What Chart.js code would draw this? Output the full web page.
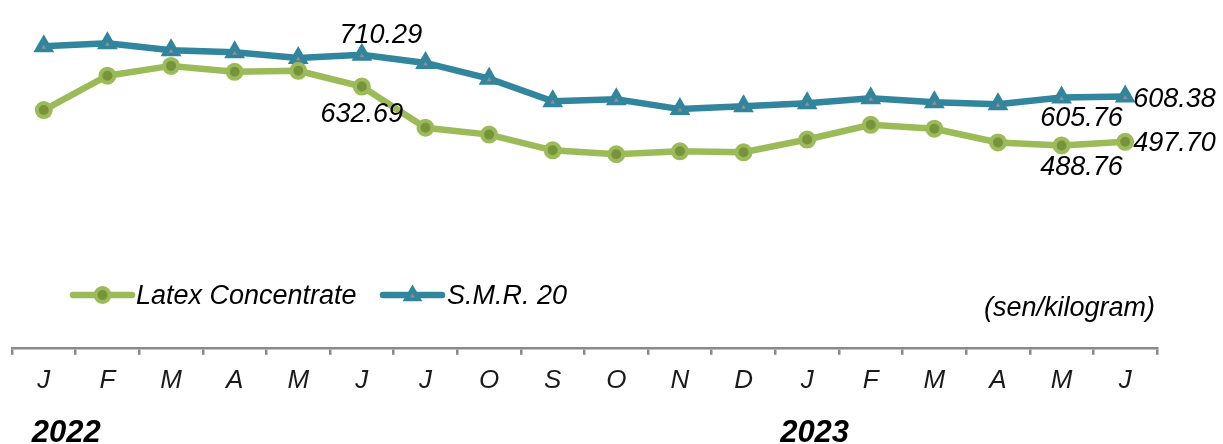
<!DOCTYPE html>
<html>
<head>
<meta charset="utf-8">
<title>Latex Concentrate and S.M.R. 20 prices</title>
<script src="https://cdn.jsdelivr.net/npm/chart.js@4.4.0/dist/chart.umd.min.js"></script>
<style>
    body { margin: 0; background: #fff; }
    #wrap { width: 1223px; height: 444px; }
</style>
</head>
<body>
<div id="wrap"><canvas id="rubber-chart" width="1223" height="444"></canvas></div>
<script>
// months Jan 2022 - Jun 2023 (labels as printed, August shown as "O" for Ogos)
var months = ['J', 'F', 'M', 'A', 'M', 'J', 'J', 'O', 'S', 'O', 'N', 'D', 'J', 'F', 'M', 'A', 'M', 'J'];
var years = ['2022', '2023'];

// sen/kilogram (labelled points are exact)
var latexConcentrate = [575.2, 659.2, 683.2, 668.8, 671.2, 632.69, 532.0, 515.2, 476.8, 467.2, 474.4, 472.0, 503.2, 539.2, 529.6, 496.0, 488.76, 497.70];
var smr20 = [731.2, 738.4, 721.6, 716.8, 702.4, 710.29, 690.4, 652.0, 596.8, 601.6, 577.6, 584.8, 592.0, 604.0, 594.4, 589.6, 605.76, 608.38];

var seriesNames = ['Latex Concentrate', 'S.M.R. 20'];
var unitText = '(sen/kilogram)';

var green = '#9BBB59';
var greenDark = '#77933C';
var teal = '#31859C';
var axisGrey = '#898989';
var fontFamily = '"Liberation Sans", Arial, sans-serif';

// which points get a value label and where it sits relative to the point
var valueLabels = [
    { ds: 1, idx: 5, dx: 19, dy: -12, align: 'center' },
    { ds: 0, idx: 5, dx: 0, dy: 35, align: 'center' },
    { ds: 1, idx: 16, dx: 20, dy: 28, align: 'center' },
    { ds: 0, idx: 16, dx: 20, dy: 30, align: 'center' },
    { ds: 1, idx: 17, dx: 8, dy: 10, align: 'left' },
    { ds: 0, idx: 17, dx: 8, dy: 9, align: 'left' }
];

function triangle(ctx, x, y, r) {
    ctx.beginPath();
    ctx.moveTo(x, y - r);
    ctx.lineTo(x + r * 0.95, y + r * 0.6);
    ctx.lineTo(x - r * 0.95, y + r * 0.6);
    ctx.closePath();
}

var labelPlugin = {
    id: 'valueLabels',
    afterDatasetsDraw: function (chart) {
        var ctx = chart.ctx;
        ctx.save();
        // the little grey centre in each triangle marker
        ctx.fillStyle = '#9a8c8c';
        chart.getDatasetMeta(1).data.forEach(function (pt) {
            triangle(ctx, pt.x, pt.y + 1, 2.5);
            ctx.fill();
        });
        ctx.font = 'italic 27px ' + fontFamily;
        ctx.fillStyle = '#000';
        ctx.textBaseline = 'alphabetic';
        valueLabels.forEach(function (l) {
            var pt = chart.getDatasetMeta(l.ds).data[l.idx];
            var v = chart.data.datasets[l.ds].data[l.idx];
            ctx.textAlign = l.align;
            ctx.fillText(v.toFixed(2), pt.x + l.dx, pt.y + l.dy);
        });
        ctx.restore();
    }
};

var extrasPlugin = {
    id: 'extras',
    afterDraw: function (chart) {
        var ctx = chart.ctx;
        var x = chart.scales.x;
        ctx.save();

        // legend, sitting inside the plot area
        var items = [
            { ds: 0, x0: 73, x1: 132, tx: 136 },
            { ds: 1, x0: 383, x1: 442, tx: 447 }
        ];
        var ly = 295;
        items.forEach(function (it) {
            var d = chart.data.datasets[it.ds];
            ctx.strokeStyle = d.borderColor;
            ctx.lineWidth = d.borderWidth;
            ctx.lineCap = 'round';
            ctx.beginPath();
            ctx.moveTo(it.x0, ly);
            ctx.lineTo(it.x1, ly);
            ctx.stroke();
            var mx = (it.x0 + it.x1) / 2;
            ctx.fillStyle = d.pointBackgroundColor;
            ctx.strokeStyle = d.pointBorderColor;
            ctx.lineWidth = d.pointBorderWidth;
            if (d.pointStyle === 'triangle') {
                triangle(ctx, mx, ly, 9);
                ctx.fill();
                ctx.stroke();
                ctx.fillStyle = '#9a8c8c';
                triangle(ctx, mx, ly + 1, 2.5);
                ctx.fill();
            } else {
                ctx.beginPath();
                ctx.arc(mx, ly, d.pointRadius, 0, Math.PI * 2);
                ctx.fill();
                ctx.stroke();
            }
            ctx.fillStyle = '#000';
            ctx.font = 'italic 27px ' + fontFamily;
            ctx.textAlign = 'left';
            ctx.textBaseline = 'middle';
            ctx.fillText(d.label, it.tx, ly + 1);
        });

        // unit note
        ctx.font = 'italic 27px ' + fontFamily;
        ctx.textAlign = 'right';
        ctx.textBaseline = 'middle';
        ctx.fillText(unitText, 1155, 308);

        // year captions under the month ticks
        ctx.font = 'italic bold 31px ' + fontFamily;
        ctx.textAlign = 'left';
        ctx.textBaseline = 'alphabetic';
        ctx.fillText(years[0], x.getPixelForValue(0) - 12, 442);
        ctx.fillText(years[1], x.getPixelForValue(12) - 27, 442);

        ctx.restore();
    }
};

var ctx = document.getElementById('rubber-chart').getContext('2d');
var chart = new Chart(ctx, {
    type: 'line',
    data: {
        labels: months,
        datasets: [{
            label: seriesNames[0],
            data: latexConcentrate,
            borderColor: green,
            borderWidth: 6.5,
            pointStyle: 'circle',
            pointRadius: 7,
            pointBorderWidth: 4,
            pointBackgroundColor: greenDark,
            pointBorderColor: green,
            tension: 0
        }, {
            label: seriesNames[1],
            data: smr20,
            borderColor: teal,
            borderWidth: 6.5,
            pointStyle: 'triangle',
            pointRadius: 10.5,
            pointBorderWidth: 1.5,
            pointBackgroundColor: teal,
            pointBorderColor: teal,
            tension: 0
        }]
    },
    options: {
        responsive: false,
        animation: false,
        layout: { padding: { left: 10, right: 66, top: 0, bottom: 38 } },
        plugins: {
            legend: { display: false },
            tooltip: { enabled: false }
        },
        scales: {
            x: {
                offset: true,
                grid: {
                    offset: true,
                    drawOnChartArea: false,
                    tickLength: 7,
                    color: axisGrey,
                    lineWidth: 2.5
                },
                border: { display: true, color: axisGrey, width: 2.5 },
                ticks: {
                    color: '#1a1a1a',
                    padding: 10,
                    font: { family: fontFamily, size: 26, style: 'italic' },
                    maxRotation: 0,
                    autoSkip: false
                }
            },
            y: {
                display: false,
                min: -6,
                max: 815
            }
        }
    },
    plugins: [labelPlugin, extrasPlugin]
});
</script>
</body>
</html>
